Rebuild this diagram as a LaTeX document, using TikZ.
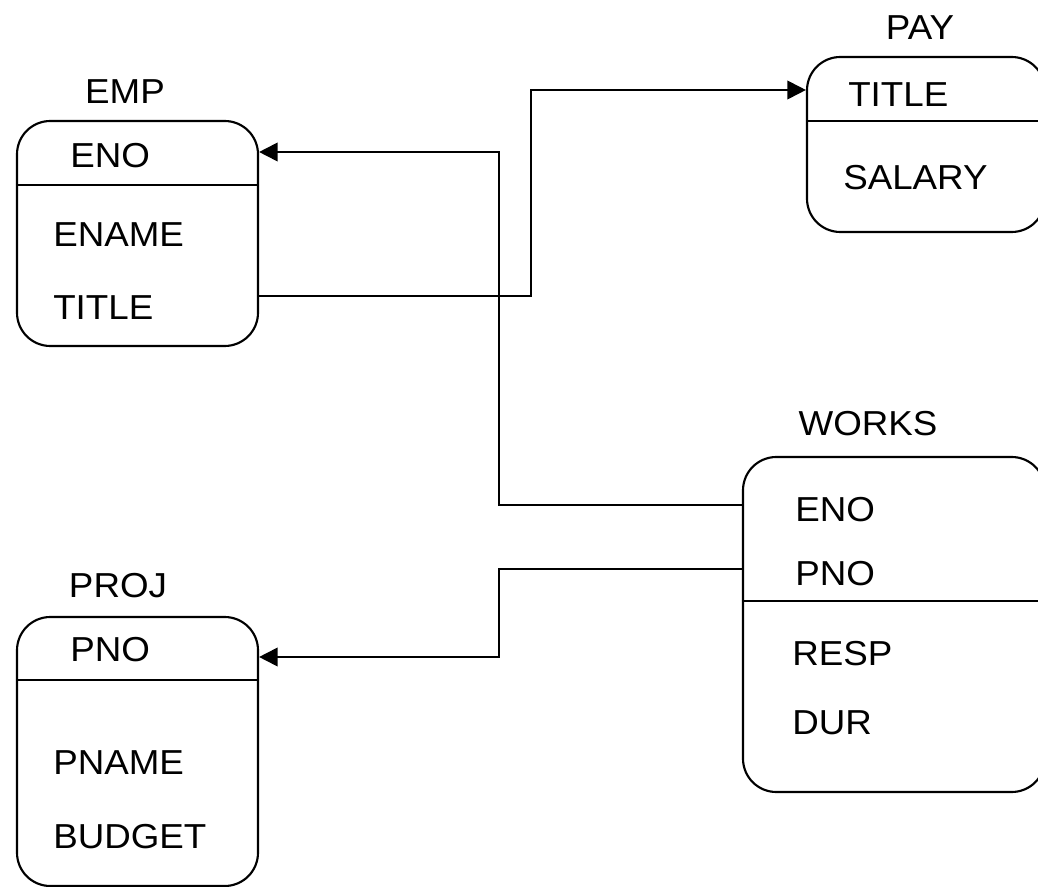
\documentclass[tikz,border=0pt]{standalone}
\usepackage{fontspec}
\setmainfont{Liberation Sans}[FakeStretch=1.06]
\usetikzlibrary{arrows.meta,fit}
\begin{document}
\begin{tikzpicture}[x=0.75pt,y=-0.75pt,
  box/.style={draw,line width=1.6pt,rounded corners=25pt,inner sep=0pt},
  divider/.style={line width=1.6pt},
  field/.style={anchor=west,inner sep=0pt,font=\fontsize{26}{30}\selectfont},
  title/.style={anchor=center,inner sep=0pt,font=\fontsize{26}{30}\selectfont},
  conn/.style={line width=1.4pt},
  arr/.style={conn,-{Triangle[length=14pt,width=14pt]}}]
\useasboundingbox (0,0) rectangle (1038,887);
% EMP
\node[box,fit={(17,121) (258,346)}] (emp) {};
\node[title] (empT) at (125,92) {EMP};
\draw[divider] (emp.west |- 0,185) -- (emp.east |- 0,185);
\node[field] (empENO) at (70,156) {ENO};
\node[field] (empENAME) at (53,235) {ENAME};
\node[field] (empTITLE) at (53,308) {TITLE};
% PAY
\node[box,fit={(807,57) (1045,232)}] (pay) {};
\node[title] (payT) at (920,28) {PAY};
\draw[divider] (pay.west |- 0,121) -- (pay.east |- 0,121);
\node[field] (payTITLE) at (848,95) {TITLE};
\node[field] (paySALARY) at (843,178) {SALARY};
% WORKS
\node[box,fit={(743,457) (1045,792)}] (works) {};
\node[title] (worksT) at (868,424) {WORKS};
\draw[divider] (works.west |- 0,601) -- (works.east |- 0,601);
\node[field] (worksENO) at (795,510) {ENO};
\node[field] (worksPNO) at (795,574) {PNO};
\node[field] (worksRESP) at (792,654) {RESP};
\node[field] (worksDUR) at (792,723) {DUR};
% PROJ
\node[box,fit={(17,617) (258,886)}] (proj) {};
\node[title] (projT) at (118,586) {PROJ};
\draw[divider] (proj.west |- 0,680) -- (proj.east |- 0,680);
\node[field] (projPNO) at (70,650) {PNO};
\node[field] (projPNAME) at (53,763) {PNAME};
\node[field] (projBUDGET) at (53,837) {BUDGET};
% connector ends
\coordinate (eENOin) at (emp.east |- 0,152);
\coordinate (eTITLEout) at (emp.east |- 0,296);
\coordinate (pTITLEin) at (pay.west |- 0,90);
\coordinate (wENOout) at (works.west |- 0,505);
\coordinate (wPNOout) at (works.west |- 0,569);
\coordinate (jPNOin) at (proj.east |- 0,657);
% connectors
\draw[arr] (eTITLEout) -- (531,296) -- (531,90) -- (pTITLEin);
\draw[arr] (wENOout) -- (499,505) -- (499,152) -- (eENOin);
\draw[arr] (wPNOout) -- (499,569) -- (499,657) -- (jPNOin);
\end{tikzpicture}
\end{document}
